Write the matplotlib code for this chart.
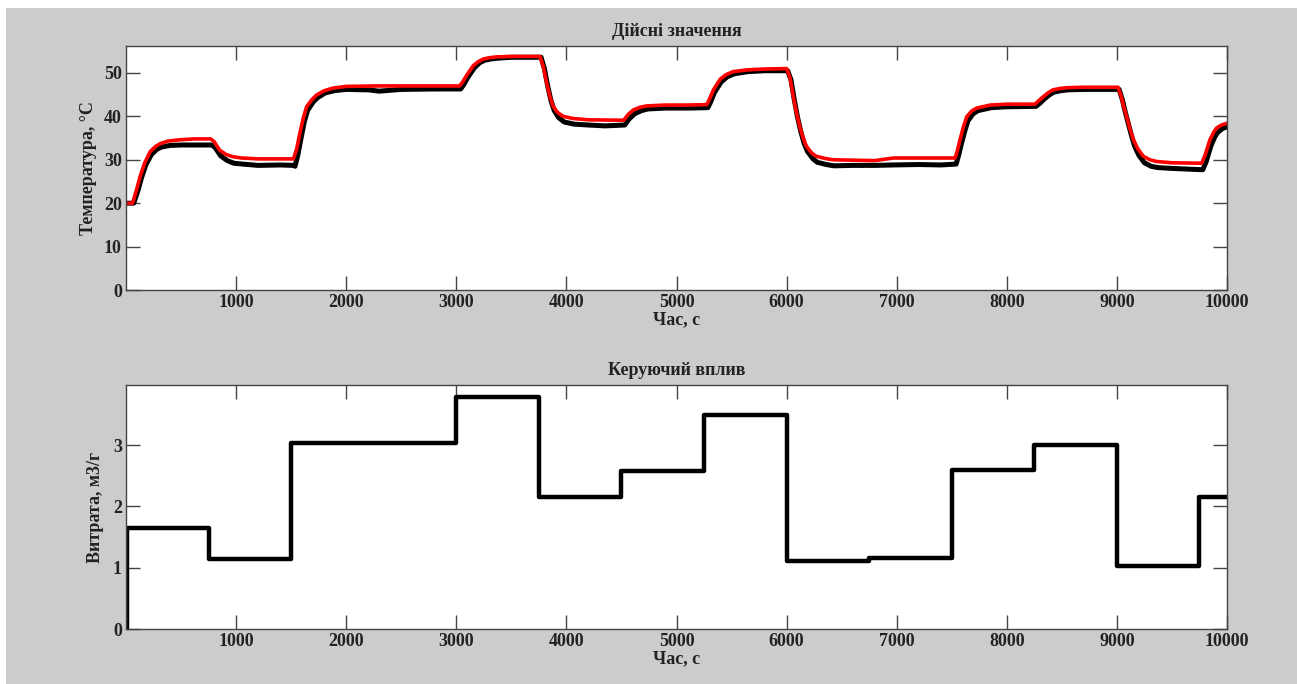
import matplotlib
matplotlib.use("Agg")
import matplotlib.pyplot as plt
from matplotlib.patches import Rectangle

# Model (red) temperature response, sampled from the simulation log
model_t = [0, 60, 100, 130, 170, 220, 270, 310, 380, 490, 620, 770, 800, 850, 910, 970,
           1050, 1200, 1400, 1520, 1550, 1580, 1610, 1640, 1690, 1730, 1800, 1880, 2000,
           2300, 2700, 3030, 3060, 3095, 3155, 3200, 3245, 3300, 3370, 3500, 3760, 3790,
           3820, 3850, 3880, 3920, 3970, 4060, 4200, 4520, 4560, 4610, 4670, 4730, 4900,
           5100, 5275, 5300, 5335, 5395, 5450, 5515, 5640, 5800, 6000, 6030, 6060, 6090,
           6120, 6150, 6180, 6230, 6270, 6350, 6420, 6600, 6800, 6970, 7200, 7530, 7550,
           7575, 7605, 7636, 7680, 7726, 7850, 8000, 8255, 8290, 8330, 8380, 8420, 8480,
           8545, 8700, 9010, 9040, 9065, 9090, 9120, 9150, 9190, 9240, 9300, 9360, 9500,
           9770, 9800, 9845, 9880, 9905, 9950, 10000]
model_T = [20.0, 20.0, 23.5, 26.3, 29.3, 31.9, 33.1, 33.7, 34.3, 34.6, 34.8, 34.8, 34.2,
           32.2, 31.2, 30.7, 30.4, 30.2, 30.2, 30.2, 32.5, 36.2, 39.6, 42.2, 43.9, 44.9,
           45.9, 46.5, 46.9, 47.0, 47.0, 47.0, 48.0, 49.5, 51.7, 52.6, 53.2, 53.5, 53.7,
           53.8, 53.8, 51.5, 47.8, 44.6, 42.3, 40.9, 40.0, 39.5, 39.2, 39.1, 40.4, 41.5,
           42.1, 42.4, 42.6, 42.6, 42.7, 44.0, 46.1, 48.5, 49.6, 50.3, 50.7, 50.9, 51.0,
           49.0, 44.7, 40.8, 37.6, 35.0, 33.1, 31.5, 30.8, 30.3, 30.0, 29.9, 29.8, 30.4,
           30.4, 30.4, 32.0, 34.6, 37.5, 39.9, 41.2, 41.9, 42.6, 42.8, 42.8, 43.6, 44.5,
           45.5, 46.1, 46.4, 46.6, 46.7, 46.7, 44.5, 42.0, 39.8, 37.0, 34.6, 32.5, 30.8,
           30.0, 29.6, 29.3, 29.2, 31.0, 34.6, 36.4, 37.3, 38.0, 38.4]

# Measured (black) plant temperature
plant_t = [0, 70, 110, 140, 180, 230, 280, 320, 400, 500, 780, 810, 860, 920, 980, 1060,
           1200, 1400, 1525, 1535, 1560, 1590, 1620, 1650, 1700, 1740, 1810, 1890, 2000,
           2200, 2300, 2500, 2800, 3040, 3070, 3105, 3165, 3210, 3255, 3310, 3380, 3500,
           3770, 3800, 3830, 3860, 3890, 3930, 3980, 4070, 4200, 4350, 4530, 4570, 4620,
           4680, 4740, 4900, 5100, 5285, 5310, 5345, 5405, 5460, 5525, 5650, 5800, 6010,
           6040, 6070, 6100, 6130, 6160, 6190, 6240, 6280, 6360, 6430, 6600, 6800, 6970,
           7200, 7400, 7540, 7560, 7585, 7615, 7646, 7690, 7736, 7860, 8000, 8265, 8300,
           8340, 8390, 8430, 8490, 8555, 8700, 9020, 9050, 9075, 9100, 9130, 9160, 9200,
           9250, 9310, 9370, 9500, 9780, 9810, 9855, 9890, 9915, 9960, 10000]
plant_T = [20.0, 20.0, 23.0, 25.8, 28.8, 31.2, 32.4, 32.9, 33.3, 33.4, 33.4, 32.8, 30.9,
           29.8, 29.2, 29.0, 28.7, 28.8, 28.7, 28.5, 31.0, 35.0, 38.8, 41.4, 43.3, 44.3,
           45.4, 45.9, 46.2, 46.1, 45.8, 46.2, 46.3, 46.3, 47.4, 49.0, 51.2, 52.3, 52.9,
           53.2, 53.4, 53.6, 53.6, 51.0, 47.0, 43.6, 41.3, 39.7, 38.7, 38.2, 38.0, 37.8,
           38.0, 39.4, 40.6, 41.3, 41.7, 41.9, 41.9, 42.0, 43.3, 45.5, 47.9, 49.1, 49.8,
           50.3, 50.5, 50.5, 48.4, 43.8, 39.7, 36.4, 33.7, 31.9, 30.2, 29.4, 28.9, 28.6,
           28.7, 28.7, 28.8, 28.9, 28.8, 29.0, 30.8, 33.4, 36.3, 38.9, 40.5, 41.3, 42.0,
           42.2, 42.3, 43.0, 44.0, 45.0, 45.6, 45.9, 46.1, 46.2, 46.2, 43.8, 41.1, 38.7,
           35.8, 33.2, 31.0, 29.3, 28.5, 28.2, 28.0, 27.7, 29.5, 33.3, 35.3, 36.3, 37.2,
           37.6]

# Control action (flow rate), piecewise constant
step_t = [0, 10, 750, 1500, 3000, 3750, 4500, 5250, 6000, 6750, 7500, 8250, 9000, 9750, 10000]
step_u = [0.0, 1.65, 1.14, 3.03, 3.79, 2.15, 2.57, 3.49, 1.11, 1.15, 2.59, 3.0, 1.02, 2.15, 2.15]

x_ticks = [1000, 2000, 3000, 4000, 5000, 6000, 7000, 8000, 9000, 10000]
temp_ticks = [0, 10, 20, 30, 40, 50]
flow_ticks = [0, 1, 2, 3]

W, H = 1297, 684
FS = 13
TXT = "#222222"
plt.rcParams["font.family"] = ["Liberation Serif", "DejaVu Serif"]
plt.rcParams["font.weight"] = "bold"

fig = plt.figure(figsize=(W / 100, H / 100), dpi=100, facecolor="white")
fig.patches.append(Rectangle((6 / W, 0), 1 - 6 / W, 1 - 8 / H,
                             transform=fig.transFigure, facecolor="#cccccc",
                             edgecolor="none", zorder=-10))

left, width = 126 / W, (1227 - 126) / W
ax1 = fig.add_axes([left, 1 - 290 / H, width, (290 - 46) / H])
ax2 = fig.add_axes([left, 1 - 629 / H, width, (629 - 385) / H])


def style_axes(ax, yticks, ylim):
    ax.set_xlim(0, 10000)
    ax.set_ylim(*ylim)
    ax.set_xticks(x_ticks)
    ax.set_yticks(yticks)
    ax.tick_params(direction="in", length=10, width=1, color="#444444",
                   top=True, right=True, labelsize=FS, pad=3)
    for lbl in ax.get_xticklabels() + ax.get_yticklabels():
        lbl.set_fontweight("bold")
        lbl.set_color(TXT)
    for sp in ax.spines.values():
        sp.set_color("#444444")
        sp.set_linewidth(1)
    ax.set_facecolor("white")


ax1.plot(plant_t, plant_T, color="black", linewidth=3.6, solid_joinstyle="round")
ax1.plot(model_t, model_T, color="#ff0000", linewidth=2.6, solid_joinstyle="round")
style_axes(ax1, temp_ticks, (0, 56.2))
ax1.set_title("Дійсні значення", fontsize=FS, fontweight="bold", pad=7, color=TXT)
ax1.set_xlabel("Час, с", fontsize=FS, fontweight="bold", labelpad=0, color=TXT)
ax1.set_ylabel("Температура, °C", fontsize=FS, fontweight="bold", labelpad=5, color=TXT)

ax2.step(step_t, step_u, where="post", color="black", linewidth=3.2)
style_axes(ax2, flow_ticks, (0, 3.98))
ax2.set_title("Керуючий вплив", fontsize=FS, fontweight="bold", pad=7, color=TXT)
ax2.set_xlabel("Час, с", fontsize=FS, fontweight="bold", labelpad=0, color=TXT)
ax2.set_ylabel("Витрата, м3/г", fontsize=FS, fontweight="bold", labelpad=6, color=TXT)

fig.savefig("out.png", dpi=100, facecolor=fig.get_facecolor())
